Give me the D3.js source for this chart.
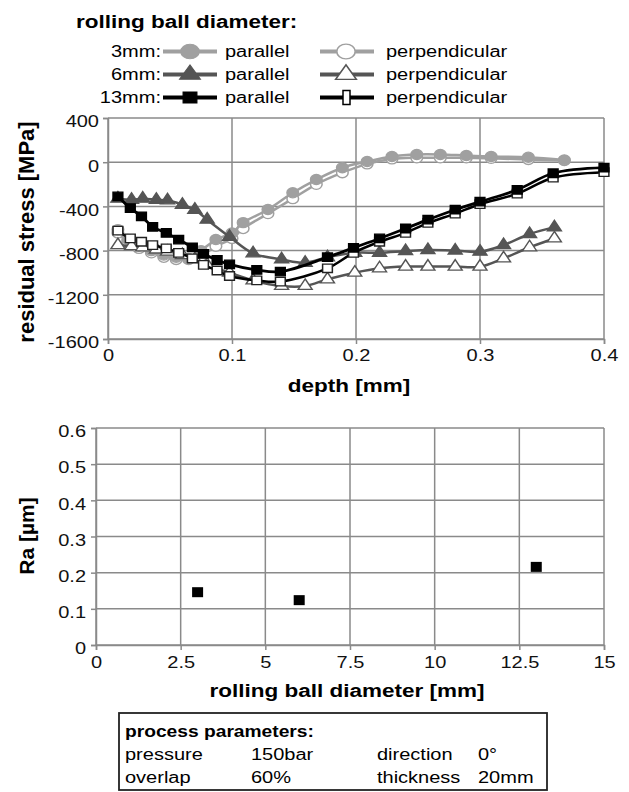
<!DOCTYPE html>
<html><head><meta charset="utf-8">
<script src="https://cdn.jsdelivr.net/npm/d3@7"></script>
<style>
body{margin:0;background:#fff;}
svg{display:block;font-family:"Liberation Sans",Arial,sans-serif;}
</style></head>
<body><svg id="c" width="629" height="792"></svg>
<script>
// ---- data: residual stress vs depth ----
const depth3 = [0.008,0.016,0.025,0.035,0.045,0.055,0.065,0.075,0.087,0.1,0.109,0.129,0.149,0.168,0.189,0.209,0.229,0.249,0.268,0.289,0.309,0.339,0.368];
const par3   = [-610,-700,-760,-800,-840,-860,-870,-800,-700,-640,-547,-428,-277,-157,-50,6,52,70,70,60,52,45,20];
const perp3  = [-640,-720,-780,-820,-860,-880,-880,-850,-760,-690,-600,-465,-330,-200,-95,-15,30,40,40,40,35,25,15];
const depth6 = [0.008,0.019,0.028,0.039,0.048,0.06,0.07,0.08,0.098,0.117,0.14,0.159,0.177,0.199,0.219,0.24,0.258,0.28,0.3,0.319,0.34,0.36];
const par6   = [-330,-340,-330,-340,-345,-385,-430,-520,-675,-825,-880,-910,-860,-820,-820,-805,-795,-800,-810,-750,-650,-590];
const perp6  = [-750,-760,-770,-790,-810,-840,-880,-930,-1000,-1070,-1120,-1120,-1060,-1000,-960,-945,-945,-945,-945,-870,-770,-690];
const depth13= [0.008,0.018,0.027,0.036,0.047,0.057,0.068,0.077,0.088,0.098,0.12,0.139,0.177,0.198,0.219,0.24,0.258,0.28,0.3,0.33,0.359,0.4];
const par13  = [-310,-415,-490,-585,-640,-700,-770,-830,-885,-925,-975,-990,-860,-775,-690,-600,-520,-430,-357,-250,-100,-50];
const perp13 = [-620,-690,-720,-750,-780,-820,-870,-930,-980,-1030,-1070,-1080,-960,-820,-720,-640,-550,-465,-380,-285,-140,-90];
const stressTicks = [400,0,-400,-800,-1200,-1600];
const depthTicks = [0,0.1,0.2,0.3,0.4];
// ---- data: Ra vs rolling ball diameter ----
const diam = [3,6,13];
const ra = [0.146,0.124,0.216];
const raTicks = [0,0.1,0.2,0.3,0.4,0.5,0.6];
const diamTicks = [0,2.5,5,7.5,10,12.5,15];
// ---- legend / params text ----
const legendRows = [["3mm:", "parallel", "perpendicular"],["6mm:", "parallel", "perpendicular"],["13mm:", "parallel", "perpendicular"]];
const params = [["pressure","150bar","direction","0°"],["overlap","60%","thickness","20mm"]];

const SX = 1.25; // horizontal stretch of the reference text
function stretch(sel, sx){
  sel.each(function(){
    const w = this.getComputedTextLength();
    this.setAttribute("textLength", (w*sx).toFixed(2));
    this.setAttribute("lengthAdjust","spacingAndGlyphs");
  });
  return sel;
}

const svg = d3.select("#c");
const gridC = "#8a8a8a";
const c3 = "#a0a0a0", c6 = "#555555", c13 = "#000";

// ---------- top chart ----------
const x1 = d3.scaleLinear().domain([0,0.4]).range([108,604]);
const y1 = d3.scaleLinear().domain([-1600,400]).range([339,118]);
const g1 = svg.append("g");
g1.selectAll(".vg").data(depthTicks).join("line").attr("x1",d=>x1(d)).attr("x2",d=>x1(d)).attr("y1",y1(400)).attr("y2",y1(-1600)).attr("stroke",gridC).attr("stroke-width",1.5);
g1.selectAll(".hg").data(stressTicks).join("line").attr("y1",d=>y1(d)).attr("y2",d=>y1(d)).attr("x1",x1(0)).attr("x2",x1(0.4)).attr("stroke",gridC).attr("stroke-width",1.5);
const ax1 = g1.append("g").attr("transform",`translate(0,${y1(-1600)})`).call(d3.axisBottom(x1).tickValues(depthTicks).tickFormat(d=>d===0?"0":d3.format(".1f")(d)).tickSize(5).tickPadding(6));
const ay1 = g1.append("g").attr("transform",`translate(${x1(0)},0)`).call(d3.axisLeft(y1).tickValues(stressTicks).tickFormat(d=>String(d)).tickSize(5).tickPadding(4));
function styleAxis(a){
  a.select(".domain").attr("stroke",gridC).attr("stroke-width",1.5);
  a.selectAll("line").attr("stroke",gridC).attr("stroke-width",1.5);
  const t = a.selectAll("text").attr("font-size",16).attr("fill","#111").attr("font-family","Liberation Sans, Arial");
  stretch(t, SX);
}
styleAxis(ax1); styleAxis(ay1);
ay1.selectAll("text").attr("dy","0.55em");

const line = d3.line().curve(d3.curveCatmullRom.alpha(0.5));
const symOf = {circle:d3.symbolCircle, tri:d3.symbolTriangle, sq:d3.symbolSquare};
function series(xs, ys, color, lw){
  g1.append("path").attr("d",line(xs.map((d,i)=>[x1(d),y1(ys[i])]))).attr("fill","none").attr("stroke",color).attr("stroke-width",lw);
}
function markers(xs, ys, shape, fill, stroke){
  const size = {circle:80, tri:64, sq:72}[shape];
  g1.append("g").selectAll("path").data(xs).join("path")
    .attr("transform",(d,i)=>`translate(${x1(d)},${y1(ys[i])}) scale(1.15,1)`)
    .attr("d",d3.symbol(symOf[shape],size)).attr("fill",fill).attr("stroke",stroke).attr("stroke-width",1.3);
}
series(depth3, perp3, c3, 2.5); markers(depth3, perp3, "circle", "#fff", c3);
series(depth3, par3, c3, 2.5); markers(depth3, par3, "circle", c3, c3);
series(depth6, perp6, c6, 2.5); markers(depth6, perp6, "tri", "#fff", c6);
series(depth6, par6, c6, 2.5); markers(depth6, par6, "tri", c6, c6);
series(depth13, perp13, c13, 2.5); markers(depth13, perp13, "sq", "#fff", "#222");
series(depth13, par13, c13, 2.8); markers(depth13, par13, "sq", c13, c13);

stretch(svg.append("text").attr("x",349).attr("y",392).attr("text-anchor","middle").attr("font-weight","bold").attr("font-size",18).text("depth [mm]"), SX);
svg.append("text").attr("transform","translate(34,232) rotate(-90)").attr("text-anchor","middle").attr("font-weight","bold").attr("font-size",22).text("residual stress [MPa]");

// ---------- legend ----------
stretch(svg.append("text").attr("x",76).attr("y",28).attr("font-weight","bold").attr("font-size",18).text("rolling ball diameter:"), SX);
const lg = svg.append("g");
const legStyle = [[c3,"circle"],[c6,"tri"],[c13,"sq"]];
legendRows.forEach((r,i)=>{
  const yy = 51.5 + i*23;
  const [col, shp] = legStyle[i];
  stretch(lg.append("text").attr("x",161).attr("y",yy+5.5).attr("text-anchor","end").attr("font-size",16).text(r[0]), SX);
  lg.append("line").attr("x1",163).attr("x2",217).attr("y1",yy).attr("y2",yy).attr("stroke",col).attr("stroke-width",4);
  lg.append("line").attr("x1",320).attr("x2",374).attr("y1",yy).attr("y2",yy).attr("stroke",col).attr("stroke-width",4);
  const sz = {circle:170, tri:120, sq:120}[shp];
  lg.append("path").attr("transform",`translate(190,${yy}) scale(1.25,1)`).attr("d",d3.symbol(symOf[shp],sz)).attr("fill",col).attr("stroke",col);
  if(shp==="sq"){
    lg.append("rect").attr("x",343).attr("y",yy-7).attr("width",7).attr("height",14).attr("fill","#fff").attr("stroke",col).attr("stroke-width",1.5);
  } else {
    lg.append("path").attr("transform",`translate(346,${yy}) scale(1.25,1)`).attr("d",d3.symbol(symOf[shp],sz)).attr("fill","#fff").attr("stroke",col).attr("stroke-width",1.3);
  }
  stretch(lg.append("text").attr("x",225).attr("y",yy+5.5).attr("font-size",16).text(r[1]), SX);
  stretch(lg.append("text").attr("x",386).attr("y",yy+5.5).attr("font-size",16).text(r[2]), SX);
});

// ---------- bottom chart ----------
const x2 = d3.scaleLinear().domain([0,15]).range([96,604]);
const y2 = d3.scaleLinear().domain([0,0.6]).range([645,428]);
const g2 = svg.append("g");
g2.selectAll(".vg").data(diamTicks).join("line").attr("x1",d=>x2(d)).attr("x2",d=>x2(d)).attr("y1",y2(0.6)).attr("y2",y2(0)).attr("stroke",gridC).attr("stroke-width",1.5);
g2.selectAll(".hg").data(raTicks).join("line").attr("y1",d=>y2(d)).attr("y2",d=>y2(d)).attr("x1",x2(0)).attr("x2",x2(15)).attr("stroke",gridC).attr("stroke-width",1.5);
const ax2 = g2.append("g").attr("transform",`translate(0,${y2(0)})`).call(d3.axisBottom(x2).tickValues(diamTicks).tickFormat(d=>String(d)).tickSize(5).tickPadding(7));
const ay2 = g2.append("g").attr("transform",`translate(${x2(0)},0)`).call(d3.axisLeft(y2).tickValues(raTicks).tickFormat(d=>d===0?"0":String(d)).tickSize(5).tickPadding(5));
styleAxis(ax2); styleAxis(ay2);
ay2.selectAll("text").attr("dy","0.55em");
g2.selectAll(".pt").data(diam).join("rect").attr("x",d=>x2(d)-5.5).attr("y",(d,i)=>y2(ra[i])-5).attr("width",11).attr("height",10).attr("fill","#000");
stretch(svg.append("text").attr("x",347).attr("y",697).attr("text-anchor","middle").attr("font-weight","bold").attr("font-size",18).text("rolling ball diameter [mm]"), SX);
svg.append("text").attr("transform","translate(34,536) rotate(-90)").attr("text-anchor","middle").attr("font-weight","bold").attr("font-size",21).text("Ra [µm]");

// ---------- params box ----------
svg.append("rect").attr("x",119).attr("y",713).attr("width",428).attr("height",77).attr("fill","#fff").attr("stroke","#222").attr("stroke-width",1.8);
stretch(svg.append("text").attr("x",125).attr("y",737).attr("font-weight","bold").attr("font-size",16).text("process parameters:"), 1.2);
const colX = [125,251,377,478];
params.forEach((r,i)=>{
  r.forEach((t,j)=>stretch(svg.append("text").attr("x",colX[j]).attr("y",760+i*23).attr("font-size",16).text(t), SX));
});
</script></body></html>
